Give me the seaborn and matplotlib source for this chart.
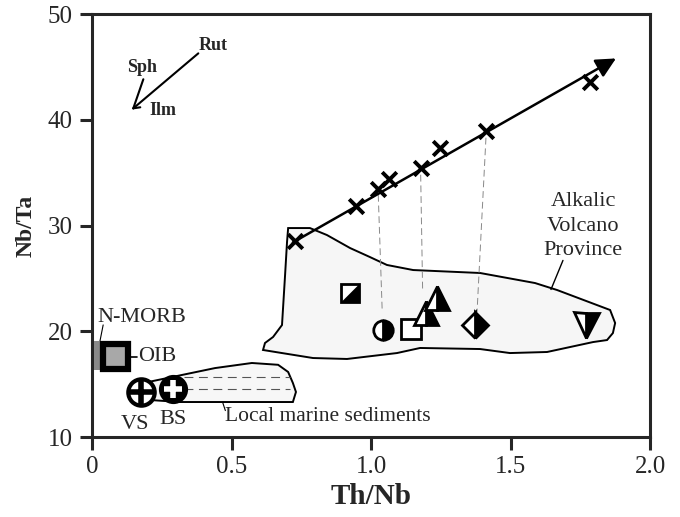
import numpy as np
import pandas as pd
import matplotlib
matplotlib.use("Agg")
import matplotlib.pyplot as plt
import seaborn as sns
from matplotlib.patches import Polygon, Rectangle
from matplotlib.path import Path

# ---------------- data ----------------
# crosses along the trend arrow (Th/Nb, Nb/Ta)
trend_x = [0.728, 0.946, 1.026, 1.065, 1.178, 1.247, 1.412, 1.785]
trend_y = [28.5, 31.8, 33.5, 34.4, 35.4, 37.3, 38.9, 43.6]
arrow_start = (0.72, 28.4)
arrow_end = (1.878, 45.8)

# sample symbols
half_square = (0.925, 23.6)
half_circle = (1.042, 20.1)
open_square = (1.143, 20.2)
tri_low = (1.196, 21.7)
tri_high = (1.237, 23.1)
half_diamond = (1.373, 20.6)
inv_triangle = (1.771, 20.6)

# tie lines (cross -> sample)
tie_lines = [((1.026, 32.9), (1.040, 22.0)),
             ((1.178, 34.8), (1.185, 23.9)),
             ((1.412, 38.3), (1.380, 21.8))]

# reference compositions
oib = (0.082, 17.66)
vs = (0.174, 14.25)
bs = (0.291, 14.55)
nmorb_box = (0.008, 16.3, 0.024, 2.8)  # x, y, w, h

# Alkalic Volcano Province outline
avp_x = [0.703, 0.781, 0.842, 0.925, 0.996, 1.057, 1.151, 1.391, 1.588, 1.667,
         1.857, 1.875, 1.867, 1.846, 1.796, 1.631, 1.498, 1.391, 1.176, 1.093,
         0.914, 0.792, 0.681, 0.613, 0.620, 0.649, 0.681, 0.692, 0.699]
avp_y = [29.76, 29.76, 29.10, 27.87, 27.02, 26.27, 25.79, 25.51, 24.56, 23.90,
         22.01, 20.78, 19.83, 19.17, 18.98, 18.04, 17.94, 18.32, 18.42, 17.94,
         17.38, 17.47, 17.94, 18.23, 18.89, 19.46, 20.59, 25.32, 28.44]

# Local marine sediments outline
lms_x = [0.201, 0.441, 0.573, 0.667, 0.703, 0.720, 0.731, 0.720, 0.315, 0.208]
lms_y = [15.20, 16.52, 17.00, 16.83, 16.15, 15.11, 14.26, 13.31, 13.31, 13.50]
lms_dash_y = [15.70, 14.51]
lms_dash_x = [0.33, 0.71]

# mineral vectors
junction = (0.148, 41.08)
rut_end = (0.381, 46.28)
sph_end = (0.184, 43.83)

xticks = [0, 0.5, 1.0, 1.5, 2.0]
xticklabels = ["0", "0.5", "1.0", "1.5", "2.0"]
yticks = [10, 20, 30, 40, 50]

# ---------------- style ----------------
sns.set_theme(style="ticks")
plt.rcParams["font.family"] = ["Liberation Serif", "DejaVu Serif"]
plt.rcParams["axes.linewidth"] = 2.2

fig = plt.figure(figsize=(6.8, 5.17), dpi=100)
ax = fig.add_axes([0.1353, 0.1547, 0.9559 - 0.1353, 0.9729 - 0.1547])
ax.set_xlim(0, 2.0)
ax.set_ylim(10, 50)

# polygons
avp = Polygon(np.column_stack([avp_x, avp_y]), closed=True, facecolor="#f6f6f6",
              edgecolor="black", lw=1.4, zorder=1)
ax.add_patch(avp)
lms = Polygon(np.column_stack([lms_x, lms_y]), closed=True, facecolor="#f7f7f7",
              edgecolor="black", lw=1.4, zorder=1)
ax.add_patch(lms)
for yy in lms_dash_y:
    ax.plot(lms_dash_x, [yy, yy], color="#555555", lw=0.8, ls=(0, (8, 5)), zorder=2)

# tie lines
for (p0, p1) in tie_lines:
    ax.plot([p0[0], p1[0]], [p0[1], p1[1]], color="#888888", lw=0.7,
            ls=(0, (7, 4)), zorder=2)

# trend arrow and crosses
ax.annotate("", xy=arrow_end, xytext=arrow_start,
            arrowprops=dict(arrowstyle="-|>", color="black", lw=1.8,
                            mutation_scale=30, shrinkA=0, shrinkB=0), zorder=3)
df = pd.DataFrame({"x": trend_x, "y": trend_y})
sns.scatterplot(data=df, x="x", y="y", marker="x", s=110, color="black",
                linewidth=2.8, ax=ax, zorder=4, legend=False)

# sample symbols
# half-filled square (diagonal, lower-right black)
ax.plot(*half_square, marker="s", ms=13, mfc="white", mec="black", mew=2, zorder=5)
tri_path = Path([(-0.5, -0.5), (0.5, -0.5), (0.5, 0.5), (-0.5, -0.5)],
                [Path.MOVETO, Path.LINETO, Path.LINETO, Path.CLOSEPOLY])
ax.plot(*half_square, marker=tri_path, ms=13, mfc="black", mec="black", mew=0.5, zorder=6)

ax.plot(*half_circle, marker="o", ms=14, fillstyle="right", mfc="black",
        mfcalt="white", mec="black", mew=2, zorder=5)
ax.plot(*open_square, marker="s", ms=14, mfc="white", mec="black", mew=2, zorder=5)
for p in (tri_low, tri_high):
    ax.plot(*p, marker="^", ms=17, fillstyle="right", mfc="black",
            mfcalt="white", mec="black", mew=2, zorder=5)
ax.plot(*half_diamond, marker="D", ms=13, fillstyle="right", mfc="black",
        mfcalt="white", mec="black", mew=2, zorder=5)
ax.plot(*inv_triangle, marker="v", ms=18, fillstyle="right", mfc="black",
        mfcalt="white", mec="black", mew=2, zorder=5)

# N-MORB and OIB
ax.add_patch(Rectangle(nmorb_box[:2], nmorb_box[2], nmorb_box[3],
                       facecolor="#8a8a8a", edgecolor="none", zorder=4))
ax.plot(*oib, marker="s", ms=18, mfc="#a8a8a8", mec="black", mew=4.5, zorder=5)

# VS and BS
ax.plot(*vs, marker="o", ms=19, mfc="white", mec="black", mew=3, zorder=5)
ax.plot(*vs, marker="+", ms=18, mec="black", mew=4, zorder=6)
ax.plot(*bs, marker="o", ms=19, mfc="black", mec="black", mew=2, zorder=5)
ax.plot(*bs, marker="+", ms=13, mec="white", mew=4, zorder=6)

# labels
ax.text(0.018, 21.3, "N-MORB", fontsize=16, ha="left", va="center")
ax.plot([0.04, 0.028], [20.6, 19.0], color="black", lw=0.8)
ax.text(0.165, 17.6, "OIB", fontsize=16, ha="left", va="center")
ax.plot([0.135, 0.16], [17.6, 17.6], color="black", lw=1.2)
ax.text(0.155, 11.2, "VS", fontsize=16, ha="center", va="center")
ax.text(0.29, 11.7, "BS", fontsize=16, ha="center", va="center")
ax.text(0.475, 11.9, "Local marine sediments", fontsize=15.5, ha="left", va="center")
ax.plot([0.468, 0.478], [13.3, 12.5], color="black", lw=0.8)
ax.text(1.76, 29.95, "Alkalic\nVolcano\nProvince", fontsize=16, ha="center",
        va="center", linespacing=1.4)
ax.plot([1.688, 1.645], [26.7, 23.95], color="black", lw=1.0)

# mineral vectors
ax.plot([rut_end[0], junction[0]], [rut_end[1], junction[1]], color="black", lw=1.5)
ax.plot([sph_end[0], junction[0]], [sph_end[1], junction[1]], color="black", lw=1.5)
ax.plot([junction[0], junction[0] + 0.025], [junction[1], junction[1] + 0.1],
        color="black", lw=1.5)
ax.text(0.434, 47.0, "Rut", fontsize=13, fontweight="bold", ha="center", va="center")
ax.text(0.178, 44.95, "Sph", fontsize=13, fontweight="bold", ha="center", va="center")
ax.text(0.255, 40.85, "Ilm", fontsize=13, fontweight="bold", ha="center", va="center")

# axes
ax.set_xticks(xticks)
ax.set_xticklabels(xticklabels)
ax.set_yticks(yticks)
ax.tick_params(direction="out", length=9, width=2.2, labelsize=18, pad=5)
ax.set_xlabel("Th/Nb", fontsize=21, fontweight="bold", labelpad=3)
ax.set_ylabel("Nb/Ta", fontsize=17, fontweight="bold", labelpad=8)
for s in ax.spines.values():
    s.set_visible(True)
    s.set_linewidth(2.2)
ax.grid(False)
ax.set_facecolor("white")
fig.patch.set_facecolor("white")

fig.savefig("out.png", dpi=100)
